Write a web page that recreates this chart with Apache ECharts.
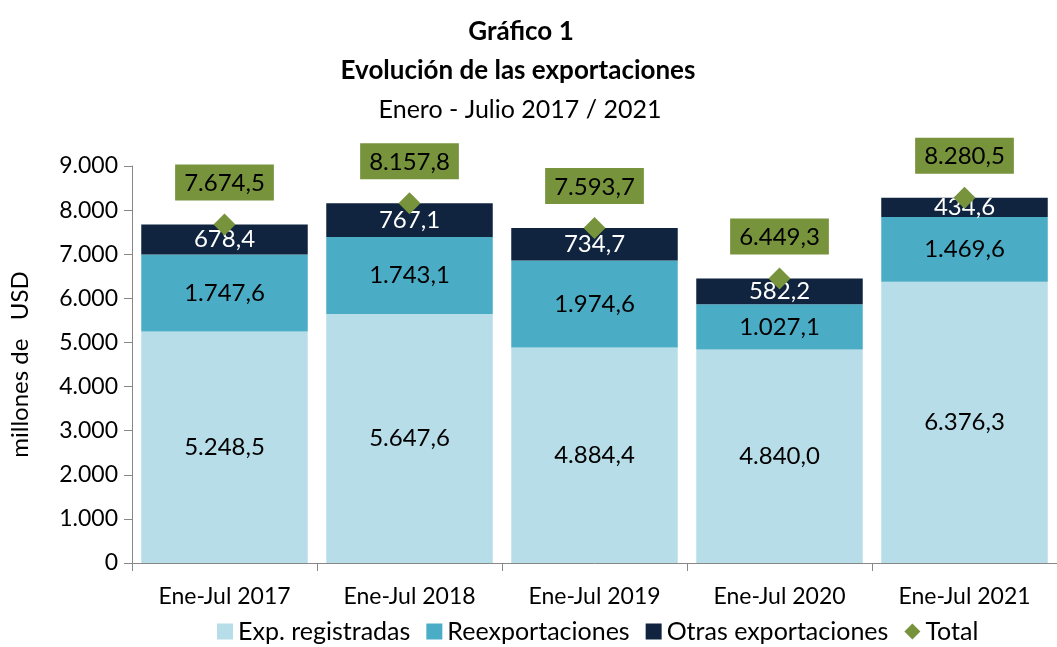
<!DOCTYPE html>
<html>
<head>
<meta charset="utf-8">
<script src="https://cdn.jsdelivr.net/npm/echarts@6/dist/echarts.min.js"></script>
<style>
html,body{margin:0;padding:0;background:#fff;}
#chart{width:1057px;height:647px;}
</style>
</head>
<body>
<div id="chart"></div>
<script>
var categories = ['Ene-Jul 2017','Ene-Jul 2018','Ene-Jul 2019','Ene-Jul 2020','Ene-Jul 2021'];
var registradas = [5248.5, 5647.6, 4884.4, 4840.0, 6376.3];
var reexport = [1747.6, 1743.1, 1974.6, 1027.1, 1469.6];
var otras = [678.4, 767.1, 734.7, 582.2, 434.6];
var total = [7674.5, 8157.8, 7593.7, 6449.3, 8280.5];

var FONT = 'Lato';

// 1234.5 -> "1.234,5"
function fmt(v, dec) {
	var s = v.toFixed(dec).split('.');
	var ent = s[0].replace(/\B(?=(\d{3})+(?!\d))/g, '.');
	return dec ? ent + ',' + s[1] : ent;
}

var chart = echarts.init(document.getElementById('chart'));
var option = {
	textStyle:{ fontFamily:FONT },
	title:[{
		text:'Gráfico 1',
		left:516, top:14, textAlign:'center',
		textStyle:{ fontFamily:FONT, fontSize:26, fontWeight:'bold', color:'#000' }
	},{
		text:'Evolución de las exportaciones',
		left:513, top:53, textAlign:'center',
		textStyle:{ fontFamily:FONT, fontSize:26, fontWeight:'bold', color:'#000' }
	},{
		text:'Enero - Julio 2017 / 2021',
		left:515, top:92, textAlign:'center',
		textStyle:{ fontFamily:FONT, fontSize:25, fontWeight:'normal', color:'#000' }
	}],
	legend:{
		bottom:-2,
		left:212,
		itemWidth:16, itemHeight:16,
		itemGap:16,
		textStyle:{ fontFamily:FONT, fontSize:25, color:'#000' },
		data:[
			{name:'Exp. registradas', icon:'rect'},
			{name:'Reexportaciones', icon:'rect'},
			{name:'Otras exportaciones', icon:'rect'},
			{name:'Total', icon:'diamond'}
		]
	},
	grid:{ left:128, right:0, top:166, bottom:84 },
	xAxis:{
		type:'category',
		data:categories,
		axisLine:{ lineStyle:{ color:'#888' } },
		axisTick:{ show:true, length:8, lineStyle:{ color:'#888' } },
		axisLabel:{ fontFamily:FONT, fontSize:23, color:'#000', margin:22 }
	},
	yAxis:{
		type:'value',
		min:0, max:9000, interval:1000,
		name:'millones de   USD',
		nameLocation:'middle',
		nameGap:100,
		nameTextStyle:{ fontFamily:FONT, fontSize:24, color:'#000' },
		splitLine:{ show:false },
		axisLine:{ show:true, lineStyle:{ color:'#888' } },
		axisTick:{ show:true, length:8, lineStyle:{ color:'#888' } },
		axisLabel:{ fontFamily:FONT, fontSize:23, color:'#000', margin:14,
			formatter:function(v){ return fmt(v,0); } }
	},
	series:[{
		name:'Exp. registradas',
		type:'bar', stack:'a',
		barCategoryGap:'10%',
		itemStyle:{ color:'#b7dde8' },
		label:{ show:true, position:'inside', fontFamily:FONT, fontSize:24, color:'#000',
			formatter:function(p){ return fmt(p.value,1); } },
		data:registradas
	},{
		name:'Reexportaciones',
		type:'bar', stack:'a',
		itemStyle:{ color:'#4bacc6' },
		label:{ show:true, position:'inside', fontFamily:FONT, fontSize:24, color:'#000',
			formatter:function(p){ return fmt(p.value,1); } },
		data:reexport
	},{
		name:'Otras exportaciones',
		type:'bar', stack:'a',
		itemStyle:{ color:'#10243f' },
		label:{ show:true, position:'inside', fontFamily:FONT, fontSize:24, color:'#fff',
			formatter:function(p){ return fmt(p.value,1); } },
		data:otras
	},{
		name:'Total',
		type:'line',
		symbol:'diamond',
		symbolSize:22,
		z:5,
		lineStyle:{ width:0 },
		itemStyle:{ color:'#77933c' },
		label:{
			show:true, position:'top', distance:13,
			backgroundColor:'#77933c',
			padding:[7,9,5,9],
			fontFamily:FONT, fontSize:24, color:'#000',
			formatter:function(p){ return fmt(p.value,1); }
		},
		data:total
	}]
};
chart.setOption(option);
</script>
</body>
</html>
